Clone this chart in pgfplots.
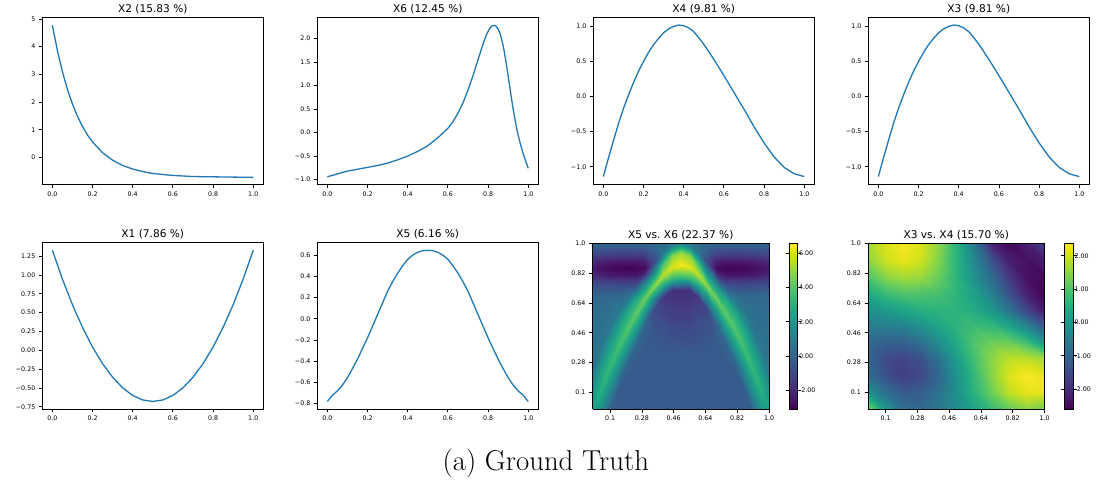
\documentclass[border=0pt]{standalone}
\usepackage{pgfplots}
\pgfplotsset{compat=1.18}
\usepackage{fontspec}
\newfontfamily\dv{DejaVu Sans}
\definecolor{mplblue}{HTML}{1F77B4}
\newcommand{\tickfont}{\dv\fontsize{6.3}{7.5}\selectfont}
\newcommand{\titlefont}{\dv\fontsize{10.6}{12}\selectfont}

\pgfplotsset{
  base/.style={scale only axis, tick align=outside, tick pos=left,
    major tick length=3.5pt, tick style={black, line width=0.8pt},
    axis line style={line width=0.8pt},
    ticklabel style={font=\tickfont},
    every axis title/.style={font=\titlefont, at={(0.5,1)}, anchor=base, yshift=5.2pt}},
  lp/.style={base, width=221pt, xmin=-0.05, xmax=1.05,
    xtick={0,0.2,0.4,0.6,0.8,1}, xticklabels={0.0,0.2,0.4,0.6,0.8,1.0}},
  hm/.style={base, width=176.5pt, height=165.5pt, view={0}{90},
    xmin=0, xmax=1, ymin=0, ymax=1, ztick=\empty, axis on top,
    xtick={0.1,0.28,0.46,0.64,0.82,1.0}, xticklabels={0.1,0.28,0.46,0.64,0.82,1.0},
    ytick={0.1,0.28,0.46,0.64,0.82,1.0}, yticklabels={0.1,0.28,0.46,0.64,0.82,1.0},
    colormap/viridis, colorbar},
  cb/.style={at={(parent axis.north east)}, anchor=north west, xshift=11.7pt,
    width=8.3pt, scale only axis, tick align=outside, major tick length=3.5pt,
    tick style={black, line width=0.8pt}, axis line style={line width=0.8pt},
    ticklabel style={font=\tickfont}, yticklabel pos=right,
    yticklabel style={xshift=-5.5pt}},
  ln/.style={mplblue, line width=1.3pt}
}

\begin{document}
\begin{tikzpicture}
\useasboundingbox (0pt,0pt) rectangle (1097pt,479pt);

% ---- row 1 ----
\begin{axis}[lp, height=167pt, at={(42.3pt,294.7pt)}, anchor=south west,
  title={X2 (15.83 \%)}, ymin=-0.97, ymax=5.06,
  ytick={0,1,2,3,4,5}, yticklabels={0,1,2,3,4,5}]
\addplot[ln] coordinates {
(0,4.78) (0.025,3.86) (0.05,3.10) (0.075,2.46) (0.1,1.93) (0.125,1.49)
(0.15,1.12) (0.175,0.81) (0.2,0.56) (0.25,0.17) (0.3,-0.10) (0.35,-0.29)
(0.4,-0.42) (0.45,-0.51) (0.5,-0.58) (0.6,-0.65) (0.7,-0.69) (0.8,-0.70)
(0.9,-0.71) (1.0,-0.72)};
\end{axis}

\begin{axis}[lp, height=167pt, at={(317.3pt,294.7pt)}, anchor=south west,
  title={X6 (12.45 \%)}, ymin=-1.10, ymax=2.45,
  ytick={-1,-0.5,0,0.5,1,1.5,2}, yticklabels={−1.0,−0.5,0.0,0.5,1.0,1.5,2.0}]
\addplot[ln] coordinates {
(0,-0.94) (0.05,-0.88) (0.1,-0.82) (0.15,-0.78) (0.2,-0.74) (0.25,-0.70)
(0.3,-0.65) (0.35,-0.58) (0.4,-0.50) (0.45,-0.40) (0.5,-0.28) (0.55,-0.11)
(0.6,0.09) (0.625,0.23) (0.65,0.41) (0.675,0.63) (0.7,0.90) (0.725,1.21)
(0.75,1.55) (0.775,1.88) (0.79,2.06) (0.8,2.15) (0.81,2.22) (0.82,2.265)
(0.83,2.28) (0.84,2.26) (0.85,2.20) (0.86,2.10) (0.87,1.94) (0.88,1.74)
(0.89,1.48) (0.9,1.20) (0.91,0.91) (0.92,0.63) (0.93,0.37) (0.94,0.14)
(0.95,-0.06) (0.96,-0.23) (0.97,-0.38) (0.98,-0.52) (0.99,-0.64) (1.0,-0.76)};
\end{axis}

\begin{axis}[lp, height=167pt, at={(593.3pt,294.7pt)}, anchor=south west,
  title={X4 (9.81 \%)}, ymin=-1.25, ymax=1.13,
  ytick={-1,-0.5,0,0.5,1}, yticklabels={−1.0,−0.5,0.0,0.5,1.0}]
\addplot[ln] coordinates {
(0,-1.14) (0.025,-0.88) (0.05,-0.63) (0.075,-0.39) (0.1,-0.17) (0.125,0.02)
(0.15,0.20) (0.175,0.36) (0.2,0.50) (0.225,0.63) (0.25,0.74) (0.275,0.83)
(0.3,0.91) (0.325,0.965) (0.35,1.00) (0.375,1.02) (0.4,1.01) (0.425,0.98)
(0.45,0.925) (0.475,0.84) (0.5,0.745) (0.525,0.64) (0.55,0.53) (0.6,0.30)
(0.65,0.06) (0.7,-0.18) (0.75,-0.43) (0.8,-0.66) (0.85,-0.86) (0.9,-1.01)
(0.95,-1.10) (1.0,-1.14)};
\end{axis}

\begin{axis}[lp, height=167pt, at={(868.3pt,294.7pt)}, anchor=south west,
  title={X3 (9.81 \%)}, ymin=-1.25, ymax=1.13,
  ytick={-1,-0.5,0,0.5,1}, yticklabels={−1.0,−0.5,0.0,0.5,1.0}]
\addplot[ln] coordinates {
(0,-1.14) (0.025,-0.88) (0.05,-0.63) (0.075,-0.39) (0.1,-0.17) (0.125,0.02)
(0.15,0.20) (0.175,0.36) (0.2,0.50) (0.225,0.63) (0.25,0.74) (0.275,0.83)
(0.3,0.91) (0.325,0.965) (0.35,1.00) (0.375,1.02) (0.4,1.01) (0.425,0.98)
(0.45,0.925) (0.475,0.84) (0.5,0.745) (0.525,0.64) (0.55,0.53) (0.6,0.30)
(0.65,0.06) (0.7,-0.18) (0.75,-0.43) (0.8,-0.66) (0.85,-0.86) (0.9,-1.01)
(0.95,-1.10) (1.0,-1.14)};
\end{axis}

% ---- row 2 ----
\begin{axis}[lp, height=166.3pt, at={(42.3pt,70pt)}, anchor=south west,
  title={X1 (7.86 \%)}, ymin=-0.78, ymax=1.43,
  ytick={-0.75,-0.5,-0.25,0,0.25,0.5,0.75,1,1.25},
  yticklabels={−0.75,−0.50,−0.25,0.00,0.25,0.50,0.75,1.00,1.25}]
\addplot[ln] coordinates {
(0,1.33) (0.05,0.948) (0.1,0.606) (0.15,0.305) (0.2,0.044) (0.25,-0.178)
(0.3,-0.358) (0.35,-0.499) (0.4,-0.600) (0.45,-0.660) (0.5,-0.680)
(0.55,-0.660) (0.6,-0.600) (0.65,-0.499) (0.7,-0.358) (0.75,-0.178)
(0.8,0.044) (0.85,0.305) (0.9,0.606) (0.95,0.948) (1.0,1.33)};
\end{axis}

\begin{axis}[lp, height=166.3pt, at={(317.3pt,70pt)}, anchor=south west,
  title={X5 (6.16 \%)}, ymin=-0.85, ymax=0.717,
  ytick={-0.8,-0.6,-0.4,-0.2,0,0.2,0.4,0.6},
  yticklabels={−0.8,−0.6,−0.4,−0.2,0.0,0.2,0.4,0.6}]
\addplot[ln] coordinates {
(0,-0.78) (0.025,-0.72) (0.05,-0.68) (0.075,-0.625) (0.1,-0.555) (0.125,-0.47)
(0.15,-0.38) (0.175,-0.28) (0.2,-0.18) (0.225,-0.07) (0.25,0.04) (0.275,0.15)
(0.3,0.26) (0.325,0.35) (0.35,0.43) (0.375,0.50) (0.4,0.56) (0.425,0.60)
(0.45,0.627) (0.475,0.642) (0.5,0.645) (0.525,0.642) (0.55,0.627) (0.575,0.60)
(0.6,0.56) (0.625,0.50) (0.65,0.43) (0.675,0.35) (0.7,0.26) (0.725,0.15)
(0.75,0.04) (0.775,-0.07) (0.8,-0.18) (0.825,-0.28) (0.85,-0.38) (0.875,-0.47)
(0.9,-0.555) (0.925,-0.625) (0.95,-0.68) (0.975,-0.72) (1.0,-0.78)};
\end{axis}

% X5 vs X6: curvilinear grid, one column of 15 points per x
\begin{axis}[hm, at={(592.5pt,70pt)}, anchor=south west,
  title={X5 vs.\ X6 (22.37 \%)}, point meta min=-3.09, point meta max=6.58,
  colorbar style={cb, ytick={-2,0,2,4,6}, yticklabels={-2.00,0.00,2.00,4.00,6.00}}]
\addplot3[surf, shader=interp, mesh/ordering=y varies, mesh/rows=15, mesh/cols=21]
table[row sep=\\] {
x y z\\
0 0 2.4\\ 0 0 2.4\\ 0 0 2.4\\ 0 0 2.4\\ 0 0 2.4\\ 0 0 2.4\\ 0 0.105 1.96\\ 0 0.24 0.68\\
0 0.68 0.17\\ 0 0.76 -0.91\\ 0 0.81 -2.07\\ 0 0.85 -2.5\\ 0 0.89 -2.07\\ 0 0.94 -0.91\\ 0 1 0.11\\
0.05 0 1.67\\ 0.05 0 1.67\\ 0.05 0 1.67\\ 0.05 0 1.67\\ 0.05 0 1.67\\ 0.05 0.12 3.1\\ 0.05 0.248 2.29\\ 0.05 0.376 0.74\\
0.05 0.68 0.15\\ 0.05 0.76 -1.0\\ 0.05 0.81 -2.24\\ 0.05 0.85 -2.7\\ 0.05 0.89 -2.24\\ 0.05 0.94 -1.0\\ 0.05 1 0.09\\
0.1 0 -0.14\\ 0.1 0.009 -0.1\\ 0.1 0.015 -0.05\\ 0.1 0.02 0.08\\ 0.1 0.14 1.78\\ 0.1 0.26 3.4\\ 0.1 0.38 2.48\\ 0.1 0.5 0.78\\
0.1 0.68 0.14\\ 0.1 0.76 -1.09\\ 0.1 0.81 -2.41\\ 0.1 0.85 -2.9\\ 0.1 0.89 -2.41\\ 0.1 0.94 -1.09\\ 0.1 1 0.07\\
0.15 0 -0.3\\ 0.15 0.074 -0.3\\ 0.15 0.123 -0.3\\ 0.15 0.164 0.12\\ 0.15 0.272 1.98\\ 0.15 0.38 3.7\\ 0.15 0.488 2.68\\ 0.15 0.596 0.82\\
0.15 0.68 0.13\\ 0.15 0.76 -1.13\\ 0.15 0.81 -2.49\\ 0.15 0.85 -3.0\\ 0.15 0.89 -2.49\\ 0.15 0.94 -1.13\\ 0.15 1 0.06\\
0.2 0 -0.3\\ 0.2 0.132 -0.3\\ 0.2 0.22 -0.3\\ 0.2 0.294 0.16\\ 0.2 0.392 2.17\\ 0.2 0.49 4.0\\ 0.2 0.588 2.87\\ 0.2 0.686 0.35\\
0.2 0.686 0.35\\ 0.2 0.76 -1.15\\ 0.2 0.81 -2.53\\ 0.2 0.85 -3.05\\ 0.2 0.89 -2.53\\ 0.2 0.94 -1.15\\ 0.2 1 0.06\\
0.25 0 -0.3\\ 0.25 0.185 -0.3\\ 0.25 0.308 -0.3\\ 0.25 0.411 0.15\\ 0.25 0.498 2.22\\ 0.25 0.585 4.2\\ 0.25 0.672 2.76\\ 0.25 0.759 -0.95\\
0.25 0.759 -0.95\\ 0.25 0.76 -1.0\\ 0.25 0.81 -2.49\\ 0.25 0.85 -3.0\\ 0.25 0.89 -2.49\\ 0.25 0.94 -1.13\\ 0.25 1 0.06\\
0.3 0 -0.3\\ 0.3 0.231 -0.3\\ 0.3 0.386 -0.33\\ 0.3 0.514 0.0\\ 0.3 0.592 2.06\\ 0.3 0.67 4.4\\ 0.3 0.748 1.87\\ 0.3 0.826 -2.26\\
0.3 0.826 -2.26\\ 0.3 0.826 -2.26\\ 0.3 0.826 -2.26\\ 0.3 0.85 -2.8\\ 0.3 0.89 -2.32\\ 0.3 0.94 -1.04\\ 0.3 1 0.08\\
0.35 0 -0.3\\ 0.35 0.272 -0.3\\ 0.35 0.454 -0.5\\ 0.35 0.605 -0.9\\ 0.35 0.675 1.83\\ 0.35 0.745 4.9\\ 0.35 0.815 1.94\\ 0.35 0.885 -0.72\\
0.35 0.885 -0.72\\ 0.35 0.885 -0.72\\ 0.35 0.885 -0.72\\ 0.35 0.885 -0.72\\ 0.35 0.89 -0.96\\ 0.35 0.94 -0.32\\ 0.35 1 0.24\\
0.4 0 -0.3\\ 0.4 0.303 -0.31\\ 0.4 0.506 -0.8\\ 0.4 0.674 -1.5\\ 0.4 0.742 2.5\\ 0.4 0.81 5.6\\ 0.4 0.878 3.8\\ 0.4 0.946 0.55\\
0.4 0.946 0.55\\ 0.4 0.946 0.55\\ 0.4 0.946 0.55\\ 0.4 0.946 0.55\\ 0.4 0.946 0.55\\ 0.4 0.946 0.55\\ 0.4 1 0.36\\
0.45 0 -0.3\\ 0.45 0.323 -0.33\\ 0.45 0.538 -1.15\\ 0.45 0.717 -1.75\\ 0.45 0.786 3.3\\ 0.45 0.855 6.1\\ 0.45 0.924 4.9\\ 0.45 0.993 0.9\\
0.45 0.993 0.9\\ 0.45 0.993 0.9\\ 0.45 0.993 0.9\\ 0.45 0.993 0.9\\ 0.45 0.993 0.9\\ 0.45 0.993 0.9\\ 0.45 1 0.8\\
0.5 0 -0.3\\ 0.5 0.324 -0.33\\ 0.5 0.54 -1.2\\ 0.5 0.72 -1.85\\ 0.5 0.795 3.5\\ 0.5 0.87 6.5\\ 0.5 0.945 5.2\\ 0.5 1 1.2\\
0.5 1 1.2\\ 0.5 1 1.2\\ 0.5 1 1.2\\ 0.5 1 1.2\\ 0.5 1 1.2\\ 0.5 1 1.2\\ 0.5 1 1.2\\
0.55 0 -0.3\\ 0.55 0.323 -0.33\\ 0.55 0.538 -1.15\\ 0.55 0.717 -1.75\\ 0.55 0.786 3.3\\ 0.55 0.855 6.1\\ 0.55 0.924 4.9\\ 0.55 0.993 0.9\\
0.55 0.993 0.9\\ 0.55 0.993 0.9\\ 0.55 0.993 0.9\\ 0.55 0.993 0.9\\ 0.55 0.993 0.9\\ 0.55 0.993 0.9\\ 0.55 1 0.8\\
0.6 0 -0.3\\ 0.6 0.303 -0.31\\ 0.6 0.506 -0.8\\ 0.6 0.674 -1.5\\ 0.6 0.742 2.5\\ 0.6 0.81 5.6\\ 0.6 0.878 3.8\\ 0.6 0.946 0.55\\
0.6 0.946 0.55\\ 0.6 0.946 0.55\\ 0.6 0.946 0.55\\ 0.6 0.946 0.55\\ 0.6 0.946 0.55\\ 0.6 0.946 0.55\\ 0.6 1 0.36\\
0.65 0 -0.3\\ 0.65 0.272 -0.3\\ 0.65 0.454 -0.5\\ 0.65 0.605 -0.9\\ 0.65 0.675 1.83\\ 0.65 0.745 4.9\\ 0.65 0.815 1.94\\ 0.65 0.885 -0.72\\
0.65 0.885 -0.72\\ 0.65 0.885 -0.72\\ 0.65 0.885 -0.72\\ 0.65 0.885 -0.72\\ 0.65 0.89 -0.96\\ 0.65 0.94 -0.32\\ 0.65 1 0.24\\
0.7 0 -0.3\\ 0.7 0.231 -0.3\\ 0.7 0.386 -0.33\\ 0.7 0.514 0.0\\ 0.7 0.592 2.06\\ 0.7 0.67 4.4\\ 0.7 0.748 1.87\\ 0.7 0.826 -2.26\\
0.7 0.826 -2.26\\ 0.7 0.826 -2.26\\ 0.7 0.826 -2.26\\ 0.7 0.85 -2.8\\ 0.7 0.89 -2.32\\ 0.7 0.94 -1.04\\ 0.7 1 0.08\\
0.75 0 -0.3\\ 0.75 0.185 -0.3\\ 0.75 0.308 -0.3\\ 0.75 0.411 0.15\\ 0.75 0.498 2.22\\ 0.75 0.585 4.2\\ 0.75 0.672 2.76\\ 0.75 0.759 -0.95\\
0.75 0.759 -0.95\\ 0.75 0.76 -1.0\\ 0.75 0.81 -2.49\\ 0.75 0.85 -3.0\\ 0.75 0.89 -2.49\\ 0.75 0.94 -1.13\\ 0.75 1 0.06\\
0.8 0 -0.3\\ 0.8 0.132 -0.3\\ 0.8 0.22 -0.3\\ 0.8 0.294 0.16\\ 0.8 0.392 2.17\\ 0.8 0.49 4.0\\ 0.8 0.588 2.87\\ 0.8 0.686 0.35\\
0.8 0.686 0.35\\ 0.8 0.76 -1.15\\ 0.8 0.81 -2.53\\ 0.8 0.85 -3.05\\ 0.8 0.89 -2.53\\ 0.8 0.94 -1.15\\ 0.8 1 0.06\\
0.85 0 -0.3\\ 0.85 0.074 -0.3\\ 0.85 0.123 -0.3\\ 0.85 0.164 0.12\\ 0.85 0.272 1.98\\ 0.85 0.38 3.7\\ 0.85 0.488 2.68\\ 0.85 0.596 0.82\\
0.85 0.68 0.13\\ 0.85 0.76 -1.13\\ 0.85 0.81 -2.49\\ 0.85 0.85 -3.0\\ 0.85 0.89 -2.49\\ 0.85 0.94 -1.13\\ 0.85 1 0.06\\
0.9 0 -0.14\\ 0.9 0.009 -0.1\\ 0.9 0.015 -0.05\\ 0.9 0.02 0.08\\ 0.9 0.14 1.78\\ 0.9 0.26 3.4\\ 0.9 0.38 2.48\\ 0.9 0.5 0.78\\
0.9 0.68 0.14\\ 0.9 0.76 -1.09\\ 0.9 0.81 -2.41\\ 0.9 0.85 -2.9\\ 0.9 0.89 -2.41\\ 0.9 0.94 -1.09\\ 0.9 1 0.07\\
0.95 0 1.67\\ 0.95 0 1.67\\ 0.95 0 1.67\\ 0.95 0 1.67\\ 0.95 0 1.67\\ 0.95 0.12 3.1\\ 0.95 0.248 2.29\\ 0.95 0.376 0.74\\
0.95 0.68 0.15\\ 0.95 0.76 -1.0\\ 0.95 0.81 -2.24\\ 0.95 0.85 -2.7\\ 0.95 0.89 -2.24\\ 0.95 0.94 -1.0\\ 0.95 1 0.09\\
1 0 2.4\\ 1 0 2.4\\ 1 0 2.4\\ 1 0 2.4\\ 1 0 2.4\\ 1 0 2.4\\ 1 0.105 1.96\\ 1 0.24 0.68\\
1 0.68 0.17\\ 1 0.76 -0.91\\ 1 0.81 -2.07\\ 1 0.85 -2.5\\ 1 0.89 -2.07\\ 1 0.94 -0.91\\ 1 1 0.11\\
};
\end{axis}

% X3 vs X4: regular 11 x 11 grid
\begin{axis}[hm, at={(868pt,70pt)}, anchor=south west,
  title={X3 vs.\ X4 (15.70 \%)}, point meta min=-2.6, point meta max=2.37,
  colorbar style={cb, ytick={-2,-1,0,1,2}, yticklabels={-2.00,-1.00,0.00,1.00,2.00}}]
\addplot3[surf, shader=interp, mesh/cols=11]
table[row sep=\\] {
x y z\\
0 0 1.5\\ 0.1 0 0.0\\ 0.2 0 -0.8\\ 0.3 0 -0.9\\ 0.4 0 -0.6\\ 0.5 0 -0.2\\ 0.6 0 0.3\\ 0.7 0 0.8\\ 0.8 0 1.2\\ 0.9 0 1.5\\ 1 0 1.3\\
0 0.1 -0.1\\ 0.1 0.1 -0.8\\ 0.2 0.1 -1.2\\ 0.3 0.1 -1.1\\ 0.4 0.1 -0.7\\ 0.5 0.1 -0.1\\ 0.6 0.1 0.6\\ 0.7 0.1 1.3\\ 0.8 0.1 1.9\\ 0.9 0.1 2.2\\ 1 0.1 2.2\\
0 0.2 -0.8\\ 0.1 0.2 -1.4\\ 0.2 0.2 -1.7\\ 0.3 0.2 -1.5\\ 0.4 0.2 -0.9\\ 0.5 0.2 -0.1\\ 0.6 0.2 0.7\\ 0.7 0.2 1.5\\ 0.8 0.2 2.1\\ 0.9 0.2 2.35\\ 1 0.2 2.2\\
0 0.3 -1.0\\ 0.1 0.3 -1.5\\ 0.2 0.3 -1.6\\ 0.3 0.3 -1.4\\ 0.4 0.3 -0.7\\ 0.5 0.3 0.1\\ 0.6 0.3 0.9\\ 0.7 0.3 1.5\\ 0.8 0.3 1.9\\ 0.9 0.3 1.9\\ 1 0.3 1.7\\
0 0.4 -0.9\\ 0.1 0.4 -1.1\\ 0.2 0.4 -1.1\\ 0.3 0.4 -0.8\\ 0.4 0.4 -0.2\\ 0.5 0.4 0.4\\ 0.6 0.4 1.0\\ 0.7 0.4 1.3\\ 0.8 0.4 1.3\\ 0.9 0.4 0.9\\ 1 0.4 0.0\\
0 0.5 -0.5\\ 0.1 0.5 -0.5\\ 0.2 0.5 -0.4\\ 0.3 0.5 -0.1\\ 0.4 0.5 0.3\\ 0.5 0.5 0.6\\ 0.6 0.5 0.8\\ 0.7 0.5 0.7\\ 0.8 0.5 0.3\\ 0.9 0.5 -0.4\\ 1 0.5 -1.3\\
0 0.6 -0.1\\ 0.1 0.6 0.1\\ 0.2 0.6 0.3\\ 0.3 0.6 0.5\\ 0.4 0.6 0.6\\ 0.5 0.6 0.6\\ 0.6 0.6 0.4\\ 0.7 0.6 0.0\\ 0.8 0.6 -0.7\\ 0.9 0.6 -1.6\\ 1 0.6 -2.3\\
0 0.7 0.4\\ 0.1 0.7 0.8\\ 0.2 0.7 1.0\\ 0.3 0.7 1.0\\ 0.4 0.7 0.9\\ 0.5 0.7 0.6\\ 0.6 0.7 0.2\\ 0.7 0.7 -0.5\\ 0.8 0.7 -1.4\\ 0.9 0.7 -2.2\\ 1 0.7 -2.6\\
0 0.8 1.0\\ 0.1 0.8 1.5\\ 0.2 0.8 1.7\\ 0.3 0.8 1.6\\ 0.4 0.8 1.2\\ 0.5 0.8 0.6\\ 0.6 0.8 -0.1\\ 0.7 0.8 -0.9\\ 0.8 0.8 -1.8\\ 0.9 0.8 -2.4\\ 1 0.8 -2.5\\
0 0.9 1.5\\ 0.1 0.9 2.0\\ 0.2 0.9 2.2\\ 0.3 0.9 2.0\\ 0.4 0.9 1.4\\ 0.5 0.9 0.6\\ 0.6 0.9 -0.3\\ 0.7 0.9 -1.4\\ 0.8 0.9 -2.2\\ 0.9 0.9 -2.4\\ 1 0.9 -2.2\\
0 1 1.7\\ 0.1 1 2.1\\ 0.2 1 2.35\\ 0.3 1 2.1\\ 0.4 1 1.5\\ 0.5 1 0.6\\ 0.6 1 -0.6\\ 0.7 1 -2.2\\ 0.8 1 -2.5\\ 0.9 1 -2.2\\ 1 1 -1.5\\
};
\end{axis}

\node[anchor=base, font=\fontsize{28.8}{34}\selectfont] at (545.8pt,8.3pt) {(a) Ground Truth};
\end{tikzpicture}
\end{document}
